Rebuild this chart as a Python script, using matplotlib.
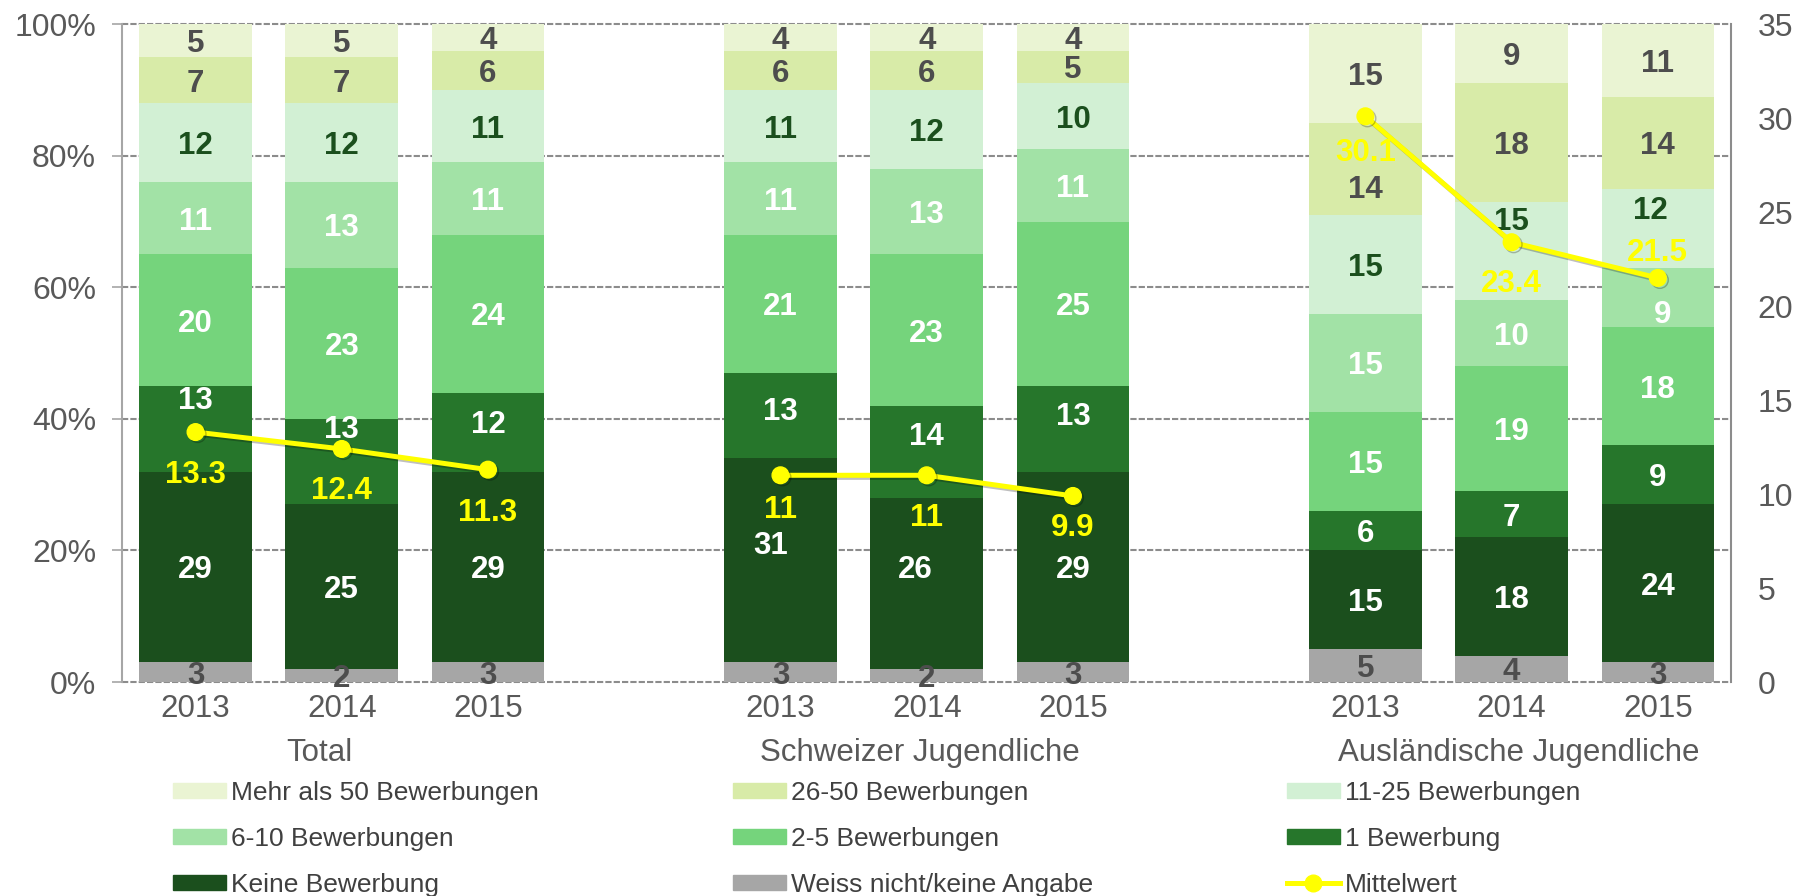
import numpy as np
import matplotlib.pyplot as plt
from matplotlib.patches import Patch
from matplotlib.lines import Line2D
from matplotlib import patheffects as pe
from matplotlib.transforms import blended_transform_factory

plt.rcParams['font.family'] = ['Liberation Sans', 'DejaVu Sans']

groups = ['Total', 'Schweizer Jugendliche', 'Ausländische Jugendliche']
years = ['2013', '2014', '2015']

categories = ['Weiss nicht/keine Angabe', 'Keine Bewerbung', '1 Bewerbung',
              '2-5 Bewerbungen', '6-10 Bewerbungen', '11-25 Bewerbungen',
              '26-50 Bewerbungen', 'Mehr als 50 Bewerbungen']

# Anteile in %, je Balken: Total 13/14/15, Schweizer 13/14/15, Ausländer 13/14/15
weiss_nicht = [3, 2, 3, 3, 2, 3, 5, 4, 3]
keine = [29, 25, 29, 31, 26, 29, 15, 18, 24]
eine = [13, 13, 12, 13, 14, 13, 6, 7, 9]
zwei_fuenf = [20, 23, 24, 21, 23, 25, 15, 19, 18]
sechs_zehn = [11, 13, 11, 11, 13, 11, 15, 10, 9]
elf_25 = [12, 12, 11, 11, 12, 10, 15, 15, 12]
sechsund_50 = [7, 7, 6, 6, 6, 5, 14, 18, 14]
ueber_50 = [5, 5, 4, 4, 4, 4, 15, 9, 11]

# durchschnittliche Anzahl Bewerbungen (rechte Achse)
mittelwert = [13.3, 12.4, 11.3, 11, 11, 9.9, 30.1, 23.4, 21.5]

shares = [weiss_nicht, keine, eine, zwei_fuenf, sechs_zehn, elf_25, sechsund_50, ueber_50]
colors = ['#a6a6a6', '#1b4f1d', '#26762b', '#75d47c', '#a2e2a6', '#d2f0d4', '#d8eba8', '#eaf4d3']
label_colors = ['#4d4d4d', 'white', 'white', 'white', 'white', '#1b4f1d', '#4d4d4d', '#4d4d4d']
yellow = '#ffff00'
text_grey = '#595959'

# Balkenpositionen: drei Gruppen à drei Jahre, eine Lücke dazwischen
x = np.array([g * 4 + k for g in range(3) for k in range(3)], dtype=float)
bar_w = 0.77

# von Hand verschobene Beschriftungen: (balken, kategorie) -> (dx, dy)
label_shift = {(0, 2): (0, 4.7), (1, 2): (0, 5.3), (2, 2): (0, 1.6),
               (3, 2): (0, 1.1), (3, 1): (-0.07, 2.7),
               (4, 2): (0, 2.8), (4, 1): (-0.075, 2.5), (5, 2): (0, 2.3),
               (6, 6): (0, -2.7), (7, 5): (0, 5.0),
               (8, 4): (0.03, -2.1), (8, 5): (-0.05, 3.1)}
mean_label_dy = [-2.11, -2.07, -2.1, -1.68, -2.1, -1.54, -1.79, -2.03, 1.5]

fig = plt.figure(figsize=(18.11, 8.96), dpi=100)
ax = fig.add_axes([0.0676, 0.2388, 0.8882, 0.7342])
ax.set_xlim(-0.5, 10.5)
ax.set_ylim(0, 100)

bottom = np.zeros(len(x))
for i, (vals, col) in enumerate(zip(shares, colors)):
    vals = np.array(vals, dtype=float)
    ax.bar(x, vals, bar_w, bottom=bottom, color=col, zorder=2)
    for j in range(len(x)):
        dx, dy = label_shift.get((j, i), (0, 0))
        ax.text(x[j] + dx, bottom[j] + vals[j] / 2 + dy, f'{vals[j]:g}',
                ha='center', va='center_baseline', color=label_colors[i],
                fontsize=22.5, fontweight='bold', zorder=3)
    bottom += vals

# Achsen und Gitter
ax.set_yticks(np.arange(0, 101, 20))
ax.set_yticklabels([f'{v}%' for v in range(0, 101, 20)])
ax.yaxis.grid(True, color='#8c8c8c', lw=1.5, ls=(0, (3, 1)), zorder=0)
for gl in ax.get_ygridlines():
    gl.set_clip_on(False)
ax.set_axisbelow(True)
ax.tick_params(axis='y', length=7, width=1.2, color='#a6a6a6', pad=12,
               labelsize=23, labelcolor=text_grey)
ax.set_xticks(x)
ax.set_xticklabels(years * 3)
ax.tick_params(axis='x', length=0, pad=8.5, labelsize=22.5, labelcolor=text_grey)
for s in ['top', 'bottom', 'right']:
    ax.spines[s].set_visible(False)
ax.spines['left'].set_color('#a6a6a6')
ax.spines['left'].set_linewidth(1.5)

trans = blended_transform_factory(ax.transData, ax.transAxes)
for gx, name in zip([0.85, 4.95, 9.05], groups):
    ax.text(gx, -0.1033, name, transform=trans, ha='center', va='center_baseline',
            fontsize=22.5, color=text_grey)

# Mittelwert auf der rechten Achse
ax2 = ax.twinx()
ax2.set_ylim(0, 35)
ax2.set_yticks(np.arange(0, 36, 5))
ax2.tick_params(axis='y', length=0, pad=19, labelsize=23, labelcolor=text_grey)
for s in ['top', 'bottom', 'left']:
    ax2.spines[s].set_visible(False)
ax2.spines['right'].set_color('#8c8c8c')
ax2.spines['right'].set_linewidth(1.5)

shadow = [pe.SimpleLineShadow(offset=(1.5, -1.5), alpha=0.25), pe.Normal()]
for g in range(3):
    sl = slice(3 * g, 3 * g + 3)
    ax2.plot(x[sl], mittelwert[sl], color=yellow, lw=3.6, marker='o', ms=12,
             path_effects=shadow, zorder=4)
for j, m in enumerate(mittelwert):
    ax2.text(x[j], m + mean_label_dy[j], f'{m:g}', ha='center', va='center_baseline',
             color=yellow, fontsize=22.5, fontweight='bold', zorder=5)

# Legende, zeilenweise wie im Bericht
order = [7, 4, 1, 6, 3, 0, 5, 2]
handles = [Patch(color=colors[i]) for i in order]
labels = [categories[i] for i in order]
handles.append(Line2D([], [], color=yellow, lw=3.6, marker='o', ms=12))
labels.append('Mittelwert')
fig.legend(handles, labels, ncol=3, loc='upper left',
           bbox_to_anchor=(173 / 1811, 1 - 781 / 896), frameon=False,
           fontsize=19, handlelength=2.0, handleheight=0.53, handletextpad=0.2,
           columnspacing=7.35, labelspacing=0.83, borderpad=0, borderaxespad=0,
           labelcolor='#404040')

fig.savefig('out.png', dpi=100)
